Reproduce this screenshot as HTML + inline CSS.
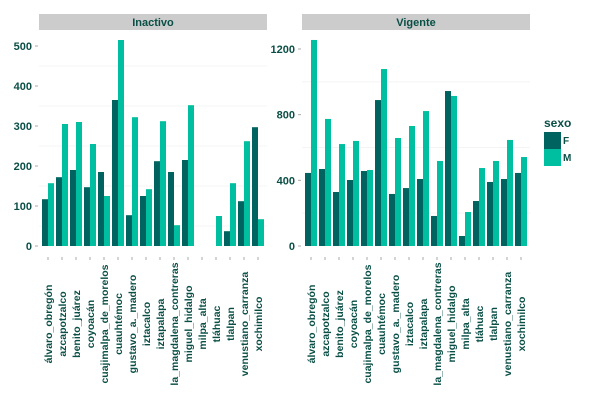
<!DOCTYPE html>
<html><head><meta charset="utf-8"><style>
body{margin:0;background:#fff;}
svg text{font-family:"Liberation Sans",sans-serif;font-weight:bold;fill:#0a4f46;}
</style></head><body>
<svg id="chart" width="600" height="400"></svg>
<script>
const categories=["álvaro_obregón","azcapotzalco","benito_juárez","coyoacán","cuajimalpa_de_morelos","cuauhtémoc","gustavo_a._madero","iztacalco","iztapalapa","la_magdalena_contreras","miguel_hidalgo","milpa_alta","tláhuac","tlalpan","venustiano_carranza","xochimilco"];
const inactivoF=[117,172,190,147,185,365,77,125,212,185,215,0,0,37,112,297];
const inactivoM=[157,305,310,255,125,515,322,142,312,52,352,0,75,157,262,67];
const vigenteF=[445,469,329,402,457,889,317,353,408,183,944,61,274,390,408,445];
const vigenteM=[1255,774,621,640,463,1078,658,731,822,518,914,207,475,518,646,542];
const inactivoTicks=[0,100,200,300,400,500];
const vigenteTicks=[0,400,800,1200];
const NS="http://www.w3.org/2000/svg";
const svg=document.getElementById('chart');
function mk(tag,attrs,parent){const e=document.createElementNS(NS,tag);for(const k in attrs)e.setAttribute(k,attrs[k]);(parent||svg).appendChild(e);return e;}
const y0=246;
function drawPanel(name,x0,title,F,M,ticks,maxV,topV){
  const g=mk('g',{});
  
  
  const yScale=v=>y0-(v/topV)*(y0-46);
  const strip=mk('rect',{x:x0,y:14,width:228,height:16,fill:'#cccccc'},g);
  
  
  const st=mk('text',{x:x0+114,y:26,'text-anchor':'middle','font-size':11},g);
  st.textContent=title;
  
  
  // minor grid
  const step=ticks[1]-ticks[0];
  for(let v=step/2;v<=maxV;v+=step){const yy=yScale(v);if(yy<34)continue;
    const l=mk('line',{x1:x0,x2:x0+228,y1:yy,y2:yy,stroke:'#f4f4f4','stroke-width':1},g);
    
    }
  ticks.forEach(t=>{const yy=yScale(t);
    const tk=mk('line',{x1:x0-4,x2:x0-1,y1:yy,y2:yy,stroke:'#aaa'},g);
    
    
    const tx=mk('text',{x:x0-7,y:yy+4,'text-anchor':'end','font-size':11},g);
    tx.textContent=t;
    
    });
  categories.forEach((c,i)=>{
    const bx=x0+3+14*i;
    if(F[i]>0){const r=mk('rect',{x:bx,y:yScale(F[i]),width:6,height:y0-yScale(F[i]),fill:'#006360'},g);
      
      }
    if(M[i]>0){const r=mk('rect',{x:bx+6,y:yScale(M[i]),width:6,height:y0-yScale(M[i]),fill:'#00bfa0'},g);
      
      }
    const cx=bx+6;
    const tk=mk('line',{x1:cx,x2:cx,y1:257,y2:260,stroke:'#aaa'},g);
    
    
    const tx=mk('text',{x:0,y:0,'text-anchor':'middle','font-size':10.5,transform:`translate(${cx+4},324) rotate(-90)`},g);
    tx.textContent=c;
    
    
  });
}
drawPanel('inactivo',39,'Inactivo',inactivoF,inactivoM,inactivoTicks,520,500);
drawPanel('vigente',302,'Vigente',vigenteF,vigenteM,vigenteTicks,1260,1200*(200/197));
const lg=mk('g',{});


const lt=mk('text',{x:544,y:127,'font-size':12},lg);lt.textContent='sexo';


[['F','#006360',132],['M','#00bfa0',149]].forEach(([k,c,y])=>{
  const r=mk('rect',{x:544,y:y,width:17,height:17,fill:c},lg);
  
  
  const t=mk('text',{x:563,y:y+12,'font-size':10},lg);t.textContent=k;
  
  
});
</script>
</body></html>
